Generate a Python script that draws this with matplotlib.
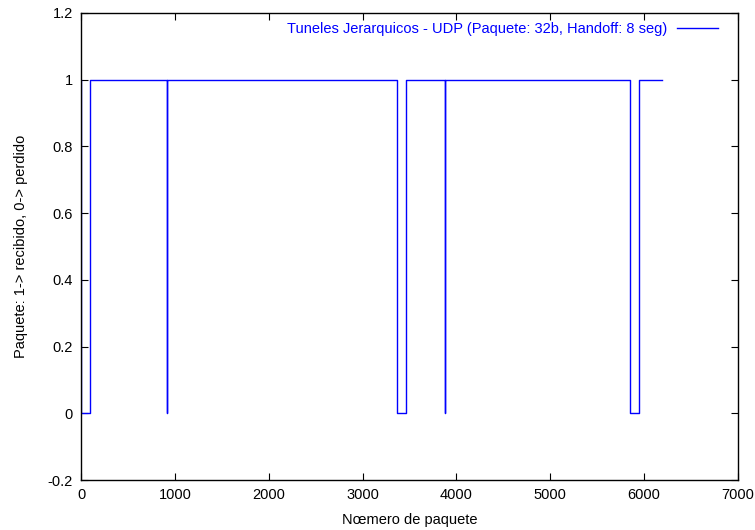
import matplotlib
matplotlib.use("Agg")
import matplotlib.pyplot as plt

# DATA: packet numbers where the state changes, and the state from there on
packets = [0, 1, 96, 915, 916, 3362, 3461, 3877, 3878, 5847, 5946, 6191]
received = [1, 0, 1, 0, 1, 0, 1, 0, 1, 0, 1, 1]

x_ticks = [0, 1000, 2000, 3000, 4000, 5000, 6000, 7000]
y_ticks = [-0.2, 0, 0.2, 0.4, 0.6, 0.8, 1, 1.2]
y_labels = ["-0.2", "0", "0.2", "0.4", "0.6", "0.8", "1", "1.2"]

series_label = "Tuneles Jerarquicos - UDP (Paquete: 32b, Handoff: 8 seg)"

plt.rcParams['font.family'] = ['Liberation Sans', 'DejaVu Sans']
plt.rcParams['font.size'] = 10.5

fig = plt.figure(figsize=(7.55, 5.30), dpi=100)
ax = fig.add_axes([81/755, 1 - 480/530, (738-81)/755, (480-13)/530])

ax.plot(packets, received, drawstyle='steps-post', color='#0000ff',
        linewidth=1.0, label=series_label)

ax.set_xlim(0, 7000)
ax.set_ylim(-0.2, 1.2)
ax.set_xticks(x_ticks)
ax.set_yticks(y_ticks)
ax.set_yticklabels(y_labels)
ax.tick_params(direction='in', length=5, width=0.8, top=True, right=True,
               color='black', pad=6)
for s in ax.spines.values():
    s.set_linewidth(1.0)

ax.set_xlabel("Nœmero de paquete", labelpad=8)
ax.set_ylabel("Paquete: 1-> recibido, 0-> perdido", labelpad=14)

leg = ax.legend(loc='upper right', frameon=False, markerfirst=False,
                handlelength=2.8, borderaxespad=0.3, handletextpad=0.7,
                bbox_to_anchor=(0.985, 1.003))
for t in leg.get_texts():
    t.set_color('#0000ff')

fig.savefig("out.png", dpi=100)
